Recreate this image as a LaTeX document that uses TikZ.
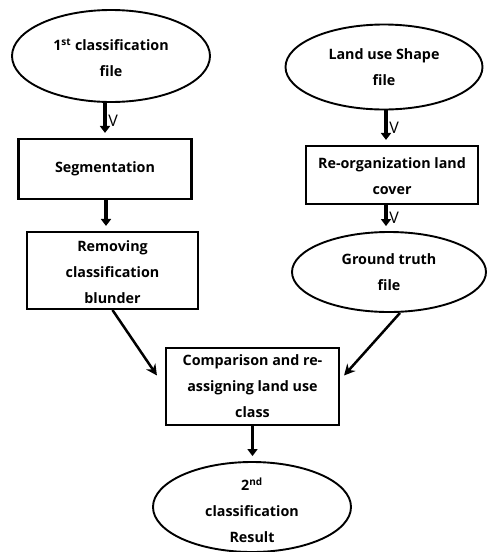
\documentclass[tikz,border=0pt]{standalone}
\usepackage{fontspec}
\setmainfont{Open Sans}
\usetikzlibrary{shapes,arrows.meta,positioning,calc}

\begin{document}
\begin{tikzpicture}[x=1pt,y=-1pt,
    every node/.style={font=\bfseries\fontsize{14.3}{26}\selectfont, align=center},
    term/.style={draw, ellipse, line width=1.9pt, inner sep=0pt},
    proc/.style={draw, rectangle, line width=2.1pt, inner sep=0pt},
    flow/.style={line width=3.6pt, -{Triangle[width=10pt,length=7pt]}, shorten >=5pt},
    slant/.style={line width=2.5pt, -{Stealth[width=11pt,length=11pt]}},
    tick/.style={right, inner sep=1.5pt, font=\fontsize{16}{16}\selectfont}]
    \useasboundingbox (0,0) rectangle (487,552);

    % input files
    \node [term, minimum width=198pt, minimum height=92pt] (first) at (111,56) {};
    \node at ([yshift=-2pt]first.center) (firstTxt) {1\textsuperscript{st} classification\\file};
    \node [term, minimum width=197pt, minimum height=85pt] (land) at (384,67) {};
    \node at ([yshift=0pt]land.center) (landTxt) {Land use Shape\\file};

    % processing steps
    \node [proc, minimum width=173pt, minimum height=60pt] (seg) at (105,169) {Segmentation};
    \node [proc, minimum width=171pt, minimum height=77pt] (remove) at (112.5,270.5) {};
    \node at ([yshift=-2pt]remove.center) (removeTxt) {Removing\\classification\\blunder};
    \node [proc, minimum width=172pt, minimum height=58pt] (reorg) at (392,175) {};
    \node at ([yshift=-1pt]reorg.center) (reorgTxt) {Re-organization land\\cover};
    \node [term, minimum width=194pt, minimum height=80pt] (ground) at (389,272) {};
    \node at (ground.center) (groundTxt) {Ground truth\\file};
    \node [proc, minimum width=173pt, minimum height=77pt] (comp) at (252.5,386.5) {};
    \node at (comp.center) (compTxt) {Comparison and re-\\assigning land use\\class};

    % result
    \node [term, minimum width=198pt, minimum height=90pt] (second) at (252,507) {};
    \node at ([yshift=-3pt]second.center) (secondTxt) {2\textsuperscript{nd}\\classification\\Result};

    % arrows
    \coordinate (landOut) at ([xshift=2pt]land.south);
    \draw [flow] (first.south -| seg.north) -- (seg.north) node [tick, midway] {V};
    \draw [flow] ([xshift=1pt]seg.south) -- ([xshift=1pt]seg.south |- remove.north);
    \draw [flow] (landOut) -- (landOut |- reorg.north) node [tick, midway] {V};
    \draw [flow] (reorg.south -| landOut) -- (landOut |- ground.north) node [tick, midway] {V};
    \draw [slant] (remove.south) -- ([xshift=-8pt,yshift=11pt]comp.west);
    \draw [slant] ([xshift=11pt]ground.south) -- ([xshift=4pt,yshift=11pt]comp.east);
    \draw [flow] (comp.south) -- (comp.south |- second.north);
\end{tikzpicture}
\end{document}
